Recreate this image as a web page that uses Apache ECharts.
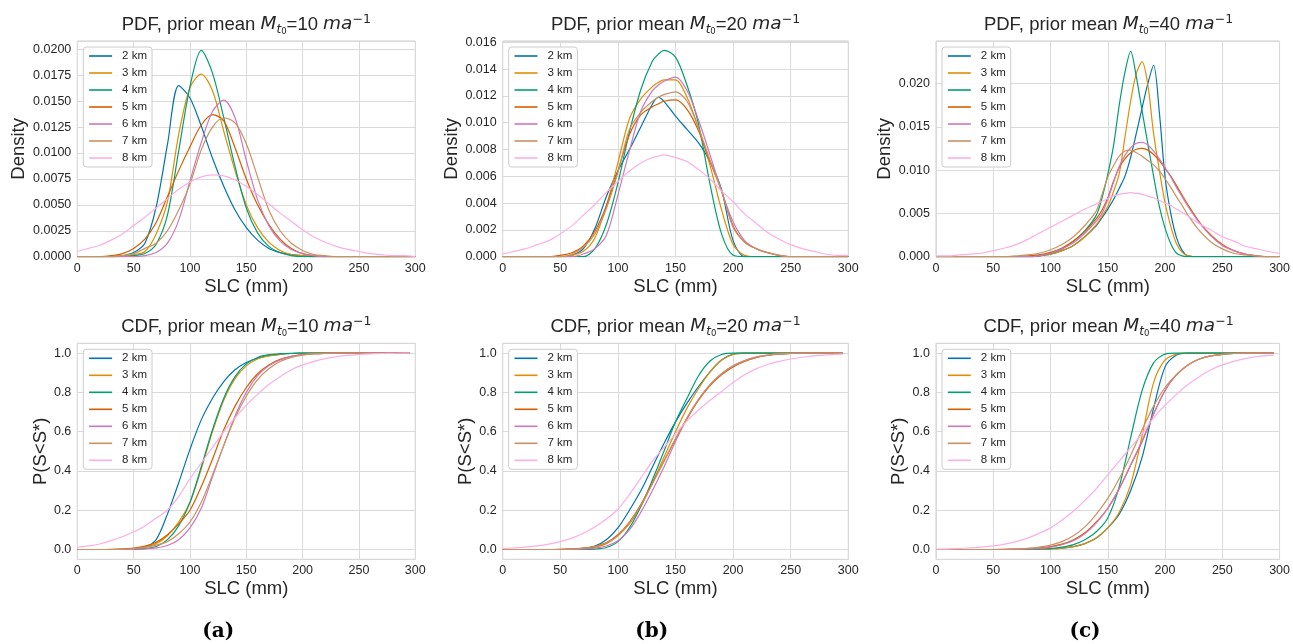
<!DOCTYPE html>
<html><head><meta charset="utf-8">
<script src="https://cdn.jsdelivr.net/npm/echarts@6/dist/echarts.min.js"></script>
<style>html,body{margin:0;padding:0;background:#fff}#c{width:1293px;height:644px}</style>
</head><body><div id="c"></div>
<script>
// ---------------- data ----------------
const seriesNames = ['2 km','3 km','4 km','5 km','6 km','7 km','8 km'];
const priorMeans = [10, 20, 40];
const subLabels = ['(a)', '(b)', '(c)'];

// x samples (SLC, mm)
const slcPdf = [0,10,20,30,40,50,60,70,80,90,100,110,120,130,140,150,160,170,180,190,200,210,220,230,240,250,260,270,280,290,300];
const slcPdf20 = [0,10,20,30,40,50,60,70,80,90,100,110,120,130,135,140,150,160,170,180,190,200,210,220,230,240,250,260,270,280,290,300];
const slcPdf40 = [0,10,20,30,40,50,60,70,80,90,100,110,120,130,140,145,150,155,160,165,170,175,180,185,190,195,200,205,210,215,220,230,240,250,260,270,280,290,300];
const slcCdf = [0,10,20,30,40,50,60,70,80,90,100,110,120,130,140,150,160,170,180,190,200,210,220,230,240,250,260,270,280,290,295];

// PDF, prior mean 10
const pdf10_2km = [0,0,0,0,0.0001,0.0004,0.0013,0.0048,0.0108,0.0165,0.0153,0.0126,0.0095,0.0068,0.0045,0.0028,0.0016,0.0008,0.0004,0.0002,0.0001,0,0,0,0,0,0,0,0,0,0];
const pdf10_3km = [0,0,0,0,0.0001,0.0002,0.0005,0.0022,0.0053,0.0118,0.0163,0.0176,0.0160,0.0121,0.0083,0.0050,0.0028,0.0014,0.0006,0.0002,0.0001,0,0,0,0,0,0,0,0,0,0];
const pdf10_4km = [0,0,0,0,0,0.0001,0.0003,0.0012,0.0040,0.0102,0.0164,0.0199,0.0177,0.0134,0.0087,0.0047,0.0023,0.0010,0.0004,0.0001,0,0,0,0,0,0,0,0,0,0,0];
const pdf10_5km = [0,0,0,0.0001,0.0003,0.0008,0.0017,0.0033,0.0058,0.0083,0.0106,0.0127,0.0137,0.0131,0.0105,0.0075,0.0050,0.0031,0.0017,0.0008,0.0003,0.0001,0,0,0,0,0,0,0,0,0];
const pdf10_6km = [0,0,0,0,0,0,0.0001,0.0004,0.0013,0.0035,0.0073,0.0110,0.0140,0.0151,0.0134,0.0093,0.0055,0.0030,0.0015,0.0007,0.0003,0.0001,0,0,0,0,0,0,0,0,0];
const pdf10_7km = [0,0,0,0,0.0001,0.0003,0.0008,0.0013,0.0025,0.0045,0.0070,0.0103,0.0125,0.0134,0.0129,0.0109,0.0077,0.0045,0.0025,0.0013,0.0006,0.0002,0.0001,0,0,0,0,0,0,0,0];
const pdf10_8km = [0.0005,0.0008,0.0011,0.0016,0.0022,0.0030,0.0038,0.0047,0.0056,0.0065,0.0072,0.0077,0.0079,0.0078,0.0074,0.0068,0.0060,0.0051,0.0042,0.0034,0.0026,0.0019,0.0014,0.0010,0.0007,0.0005,0.0003,0.0002,0.0001,0.0001,0];

// PDF, prior mean 20 (x = slcPdf20)
const pdf20_2km = [0,0,0,0,0,0,0.0001,0.0006,0.0021,0.0045,0.0064,0.0080,0.0097,0.0114,0.0119,0.0116,0.0105,0.0095,0.0085,0.0071,0.0050,0.0012,0,0,0,0,0,0,0,0,0,0];
const pdf20_3km = [0,0,0,0,0,0,0.0001,0.0004,0.0014,0.0038,0.0070,0.0103,0.0118,0.0127,0.0130,0.0132,0.0132,0.0119,0.0096,0.0068,0.0035,0.0009,0.0001,0,0,0,0,0,0,0,0,0];
const pdf20_4km = [0,0,0,0,0,0,0,0,0.0006,0.0024,0.0055,0.0093,0.0125,0.0146,0.0151,0.0154,0.0149,0.0128,0.0099,0.0054,0.0017,0.0001,0,0,0,0,0,0,0,0,0,0];
const pdf20_5km = [0,0,0,0,0,0.0001,0.0003,0.0008,0.0019,0.0038,0.0064,0.0091,0.0106,0.0112,0.0114,0.0116,0.0117,0.0110,0.0094,0.0071,0.0049,0.0023,0.0011,0.0006,0.0003,0.0001,0,0,0,0,0,0];
const pdf20_6km = [0,0,0,0,0,0,0,0.0002,0.0006,0.0016,0.0046,0.0079,0.0109,0.0124,0.0128,0.0131,0.0134,0.0124,0.0102,0.0076,0.0049,0.0026,0.0012,0.0006,0.0003,0.0001,0,0,0,0,0,0];
const pdf20_7km = [0,0,0,0,0,0,0.0002,0.0007,0.0017,0.0036,0.0063,0.0095,0.0108,0.0116,0.0119,0.0121,0.0123,0.0116,0.0096,0.0072,0.0049,0.0022,0.0011,0.0006,0.0003,0.0001,0,0,0,0,0,0];
const pdf20_8km = [0.0002,0.0004,0.0006,0.0009,0.0012,0.0017,0.0023,0.0031,0.0039,0.0048,0.0056,0.0064,0.0070,0.0074,0.0075,0.0076,0.0074,0.0071,0.0065,0.0058,0.0049,0.0041,0.0032,0.0025,0.0018,0.0013,0.0009,0.0006,0.0004,0.0002,0.0001,0.0001];

// PDF, prior mean 40 (x = slcPdf40)
const pdf40_2km = [0,0,0,0,0,0,0,0,0,0.0001,0.0003,0.0007,0.0013,0.0023,0.0036,0.0045,0.0055,0.0066,0.0079,0.0093,0.0115,0.0143,0.0172,0.0200,0.0221,0.0167,0.0092,0.0050,0.0022,0.0007,0.0001,0,0,0,0,0,0,0,0];
const pdf40_3km = [0,0,0,0,0,0,0,0,0,0.0001,0.0003,0.0007,0.0013,0.0023,0.0037,0.0047,0.0058,0.0075,0.0096,0.0138,0.0180,0.0212,0.0225,0.0198,0.0142,0.0100,0.0062,0.0035,0.0015,0.0005,0.0001,0,0,0,0,0,0,0,0];
const pdf40_4km = [0,0,0,0,0,0,0,0,0,0.0001,0.0004,0.0009,0.0018,0.0030,0.0048,0.0068,0.0095,0.0128,0.0175,0.0213,0.0237,0.0207,0.0168,0.0130,0.0093,0.0058,0.0033,0.0015,0.0004,0.0001,0,0,0,0,0,0,0,0,0];
const pdf40_5km = [0,0,0,0,0,0,0,0,0.0001,0.0002,0.0005,0.0010,0.0018,0.0029,0.0044,0.0054,0.0068,0.0087,0.0103,0.0113,0.0120,0.0124,0.0125,0.0123,0.0118,0.0111,0.0102,0.0093,0.0082,0.0071,0.0060,0.0040,0.0025,0.0014,0.0007,0.0003,0.0001,0,0];
const pdf40_6km = [0,0,0,0,0,0,0,0,0,0.0001,0.0004,0.0009,0.0016,0.0027,0.0041,0.0050,0.0066,0.0086,0.0104,0.0117,0.0126,0.0131,0.0132,0.0129,0.0122,0.0113,0.0103,0.0092,0.0080,0.0069,0.0058,0.0039,0.0024,0.0013,0.0007,0.0003,0.0001,0,0];
const pdf40_7km = [0,0,0,0,0,0,0,0.0001,0.0002,0.0004,0.0008,0.0014,0.0023,0.0036,0.0053,0.0072,0.0092,0.0105,0.0116,0.0122,0.0123,0.0120,0.0116,0.0111,0.0106,0.0099,0.0090,0.0080,0.0069,0.0059,0.0048,0.0030,0.0017,0.0009,0.0004,0.0002,0.0001,0,0];
const pdf40_8km = [0.0001,0.0001,0.0002,0.0003,0.0004,0.0007,0.0010,0.0014,0.0020,0.0027,0.0034,0.0041,0.0048,0.0055,0.0061,0.0064,0.0067,0.0070,0.0072,0.0073,0.0074,0.0073,0.0072,0.0070,0.0068,0.0065,0.0062,0.0059,0.0055,0.0051,0.0047,0.0038,0.0031,0.0023,0.0018,0.0012,0.0009,0.0006,0.0004];

// CDF, prior mean 10
const cdf10_2km = [0,0,0,0,0,0.003,0.01,0.05,0.18,0.34,0.51,0.66,0.77,0.855,0.915,0.952,0.974,0.987,0.994,0.998,1,1,1,1,1,1,1,1,1,1,1];
const cdf10_3km = [0,0,0,0,0.001,0.004,0.012,0.03,0.07,0.14,0.24,0.41,0.60,0.76,0.87,0.935,0.97,0.986,0.994,0.998,0.999,1,1,1,1,1,1,1,1,1,1];
const cdf10_4km = [0,0,0,0,0,0.001,0.004,0.015,0.05,0.12,0.24,0.42,0.61,0.77,0.88,0.945,0.978,0.992,0.997,0.999,1,1,1,1,1,1,1,1,1,1,1];
const cdf10_5km = [0,0,0,0.001,0.003,0.007,0.017,0.037,0.075,0.13,0.20,0.32,0.46,0.61,0.73,0.825,0.895,0.94,0.968,0.984,0.993,0.997,0.999,1,1,1,1,1,1,1,1];
const cdf10_6km = [0,0,0,0,0,0.001,0.003,0.008,0.02,0.05,0.11,0.21,0.37,0.53,0.68,0.80,0.885,0.935,0.965,0.983,0.993,0.997,0.999,1,1,1,1,1,1,1,1];
const cdf10_7km = [0,0,0,0,0.002,0.005,0.011,0.022,0.04,0.08,0.14,0.24,0.38,0.53,0.67,0.78,0.865,0.92,0.957,0.978,0.99,0.996,0.999,1,1,1,1,1,1,1,1];
const cdf10_8km = [0.01,0.018,0.028,0.045,0.065,0.09,0.12,0.16,0.20,0.27,0.36,0.44,0.52,0.60,0.67,0.735,0.79,0.84,0.88,0.915,0.94,0.958,0.972,0.982,0.989,0.993,0.996,0.998,0.999,1,1];

// CDF, prior mean 20
const cdf20_2km = [0,0,0,0,0,0,0.002,0.006,0.018,0.05,0.11,0.20,0.30,0.42,0.54,0.65,0.745,0.83,0.905,0.965,0.995,1,1,1,1,1,1,1,1,1,1];
const cdf20_3km = [0,0,0,0,0,0,0.001,0.004,0.012,0.03,0.07,0.13,0.22,0.34,0.47,0.60,0.72,0.82,0.905,0.965,0.993,0.999,1,1,1,1,1,1,1,1,1];
const cdf20_4km = [0,0,0,0,0,0,0,0,0.002,0.01,0.04,0.11,0.22,0.355,0.50,0.65,0.77,0.885,0.96,0.993,1,1,1,1,1,1,1,1,1,1,1];
const cdf20_5km = [0,0,0,0,0,0.001,0.003,0.007,0.016,0.035,0.075,0.14,0.23,0.34,0.45,0.56,0.665,0.76,0.835,0.89,0.93,0.958,0.977,0.988,0.995,0.998,1,1,1,1,1];
const cdf20_6km = [0,0,0,0,0,0,0.001,0.003,0.007,0.018,0.045,0.10,0.19,0.30,0.42,0.55,0.67,0.765,0.84,0.895,0.935,0.962,0.98,0.99,0.996,0.999,1,1,1,1,1];
const cdf20_7km = [0,0,0,0,0,0.001,0.003,0.007,0.015,0.033,0.07,0.135,0.225,0.335,0.45,0.565,0.67,0.765,0.84,0.895,0.935,0.962,0.98,0.99,0.996,0.999,1,1,1,1,1];
const cdf20_8km = [0.005,0.008,0.012,0.018,0.027,0.04,0.058,0.083,0.115,0.155,0.205,0.28,0.365,0.45,0.52,0.59,0.655,0.71,0.76,0.805,0.85,0.89,0.92,0.942,0.958,0.97,0.979,0.986,0.991,0.994,0.995];

// CDF, prior mean 40
const cdf40_2km = [0,0,0,0,0,0,0,0,0,0,0.003,0.007,0.015,0.03,0.058,0.11,0.18,0.30,0.47,0.72,0.93,0.99,1,1,1,1,1,1,1,1,1];
const cdf40_3km = [0,0,0,0,0,0,0,0,0,0,0.003,0.007,0.015,0.03,0.06,0.11,0.19,0.33,0.58,0.85,0.965,0.995,1,1,1,1,1,1,1,1,1];
const cdf40_4km = [0,0,0,0,0,0,0,0,0,0.002,0.005,0.012,0.025,0.05,0.09,0.16,0.32,0.57,0.81,0.95,0.995,1,1,1,1,1,1,1,1,1,1];
const cdf40_5km = [0,0,0,0,0,0,0.001,0.002,0.004,0.008,0.015,0.027,0.05,0.085,0.14,0.21,0.31,0.43,0.55,0.69,0.81,0.89,0.94,0.97,0.986,0.994,0.998,1,1,1,1];
const cdf40_6km = [0,0,0,0,0,0,0,0.001,0.003,0.006,0.012,0.024,0.045,0.08,0.135,0.21,0.31,0.43,0.555,0.69,0.81,0.89,0.94,0.97,0.986,0.994,0.998,1,1,1,1];
const cdf40_7km = [0,0,0,0,0,0,0.001,0.003,0.006,0.012,0.022,0.04,0.07,0.115,0.18,0.26,0.36,0.48,0.61,0.73,0.825,0.89,0.94,0.97,0.986,0.994,0.998,1,1,1,1];
const cdf40_8km = [0.002,0.003,0.005,0.008,0.012,0.018,0.027,0.04,0.058,0.082,0.11,0.15,0.195,0.25,0.31,0.38,0.45,0.52,0.59,0.67,0.735,0.79,0.84,0.88,0.915,0.94,0.958,0.972,0.982,0.988,0.99];

// ---------------- styling / layout ----------------
const palette = ['#0173b2','#de8f05','#029e73','#d55e00','#cc78bc','#ca9161','#fbafe4'];
const FONT = '"Liberation Sans", Arial, sans-serif';
const MATH = '"DejaVu Sans", sans-serif';
const TXT = '#262626';
const GRIDC = '#dadada';

const panels = [
  {kind:'PDF', mean:10, x:slcPdf,   ys:[pdf10_2km,pdf10_3km,pdf10_4km,pdf10_5km,pdf10_6km,pdf10_7km,pdf10_8km], yMax:0.0208, yInt:0.0025, dec:4, yName:'Density'},
  {kind:'PDF', mean:20, x:slcPdf20, ys:[pdf20_2km,pdf20_3km,pdf20_4km,pdf20_5km,pdf20_6km,pdf20_7km,pdf20_8km], yMax:0.0161, yInt:0.002, dec:3, yName:'Density'},
  {kind:'PDF', mean:40, x:slcPdf40, ys:[pdf40_2km,pdf40_3km,pdf40_4km,pdf40_5km,pdf40_6km,pdf40_7km,pdf40_8km], yMax:0.0249, yInt:0.005, dec:3, yName:'Density'},
  {kind:'CDF', mean:10, x:slcCdf,   ys:[cdf10_2km,cdf10_3km,cdf10_4km,cdf10_5km,cdf10_6km,cdf10_7km,cdf10_8km], yName:'P(S<S*)'},
  {kind:'CDF', mean:20, x:slcCdf,   ys:[cdf20_2km,cdf20_3km,cdf20_4km,cdf20_5km,cdf20_6km,cdf20_7km,cdf20_8km], yName:'P(S<S*)'},
  {kind:'CDF', mean:40, x:slcCdf,   ys:[cdf40_2km,cdf40_3km,cdf40_4km,cdf40_5km,cdf40_6km,cdf40_7km,cdf40_8km], yName:'P(S<S*)'}
];
const boxes = [
  {left:77.3,  top:41,    width:338,   height:215.7, nameGap:49},
  {left:502.7, top:41,    width:345.6, height:215.7, nameGap:41.6},
  {left:936,   top:41,    width:345,   height:215.7, nameGap:41.6},
  {left:77.3,  top:343.3, width:338,   height:216,   nameGap:26.5},
  {left:502.7, top:343.3, width:345.6, height:216,   nameGap:26.5},
  {left:936,   top:343.3, width:345,   height:216,   nameGap:27}
];

function multipleFmt(step, dec) {
  return function (v) {
    const k = v / step;
    return Math.abs(k - Math.round(k)) < 1e-6 ? v.toFixed(dec) : '';
  };
}

const grid = [], xAxis = [], yAxis = [], series = [], legend = [], graphic = [];
panels.forEach((p, i) => {
  const b = boxes[i];
  grid.push({left:b.left, top:b.top, width:b.width, height:b.height, show:true,
    borderColor:'#cccccc', borderWidth:1, backgroundColor:'transparent'});
  xAxis.push({type:'value', gridIndex:i, min:0, max:300, interval:50,
    axisLine:{show:false}, axisTick:{show:false},
    splitLine:{show:true, lineStyle:{color:GRIDC, width:1}},
    axisLabel:{margin:5, fontSize:12.5, color:TXT, fontFamily:FONT},
    name:'SLC (mm)', nameLocation:'middle', nameGap:20.5,
    nameTextStyle:{fontSize:18.5, color:TXT, fontFamily:FONT}});
  const y = {type:'value', gridIndex:i,
    axisLine:{show:false}, axisTick:{show:false},
    splitLine:{show:true, lineStyle:{color:GRIDC, width:1}},
    name:p.yName, nameLocation:'middle', nameGap:b.nameGap,
    nameTextStyle:{fontSize:18.5, color:TXT, fontFamily:FONT}};
  if (p.kind === 'PDF') {
    Object.assign(y, {min:0, max:p.yMax, interval:p.yInt,
      axisLabel:{margin:6, fontSize:12.5, color:TXT, fontFamily:FONT, formatter:multipleFmt(p.yInt, p.dec)}});
  } else {
    Object.assign(y, {min:-0.05, max:1.05, splitNumber:5,
      axisLabel:{margin:6, fontSize:12.5, color:TXT, fontFamily:FONT, formatter:multipleFmt(0.2, 1)}});
  }
  yAxis.push(y);
  p.ys.forEach((arr, j) => {
    series.push({type:'line', name:seriesNames[j], xAxisIndex:i, yAxisIndex:i,
      data:p.x.map((xv, k) => [xv, arr[k]]),
      symbol:'none', smooth:0.3, clip:true,
      lineStyle:{width:1.2, color:palette[j]}, itemStyle:{color:palette[j]},
      emphasis:{disabled:true}, silent:true});
  });
  legend.push({data:seriesNames, orient:'vertical', left:b.left + 6, top:b.top + 6,
    itemWidth:23, itemHeight:12, itemGap:5, padding:[3,5,3,5],
    itemStyle:{opacity:0, borderWidth:0},
    lineStyle:{width:1.6},
    backgroundColor:'rgba(255,255,255,0.85)', borderColor:'#cccccc', borderWidth:1, borderRadius:3,
    selectedMode:false,
    textStyle:{fontSize:11.5, color:TXT, fontFamily:FONT, padding:[0,0,0,5]}});
  const cx = b.left + b.width / 2;
  const cy = p.kind === 'PDF' ? 24.5 : 326.5;
  graphic.push({type:'text', x:cx, y:cy, z:100,
    style:{
      text:'{n|' + p.kind + ', prior mean }{i|M}{s|t}{ss|0}{n|=' + p.mean + ' }{i|ma}{sup|\u22121}',
      align:'center', verticalAlign:'middle', textAlign:'center', textVerticalAlign:'middle',
      fill:TXT,
      rich:{
        n:{fontSize:18.5, fontFamily:FONT, lineHeight:23, verticalAlign:'middle', fill:TXT},
        i:{fontSize:18.5, fontFamily:MATH, fontStyle:'italic', lineHeight:23, verticalAlign:'middle', fill:TXT},
        s:{fontSize:12, fontFamily:MATH, fontStyle:'italic', lineHeight:12, verticalAlign:'bottom', fill:TXT},
        ss:{fontSize:8.5, fontFamily:MATH, lineHeight:6, verticalAlign:'bottom', fill:TXT},
        sup:{fontSize:12.5, fontFamily:MATH, lineHeight:12, verticalAlign:'top', fill:TXT}
      }
    }});
});
const subCenters = [218.3, 651.7, 1085];
subLabels.forEach((s, i) => {
  graphic.push({type:'text', x:subCenters[i], y:631.7, z:100,
    style:{text:s, font:'bold 20px "DejaVu Serif", serif', fill:'#000',
      align:'center', verticalAlign:'middle', textAlign:'center', textVerticalAlign:'middle'}});
});

const chart = echarts.init(document.getElementById('c'), null, {renderer:'canvas'});
chart.setOption({animation:false, backgroundColor:'#ffffff', grid, xAxis, yAxis, series, legend, graphic});
</script>
</body></html>
